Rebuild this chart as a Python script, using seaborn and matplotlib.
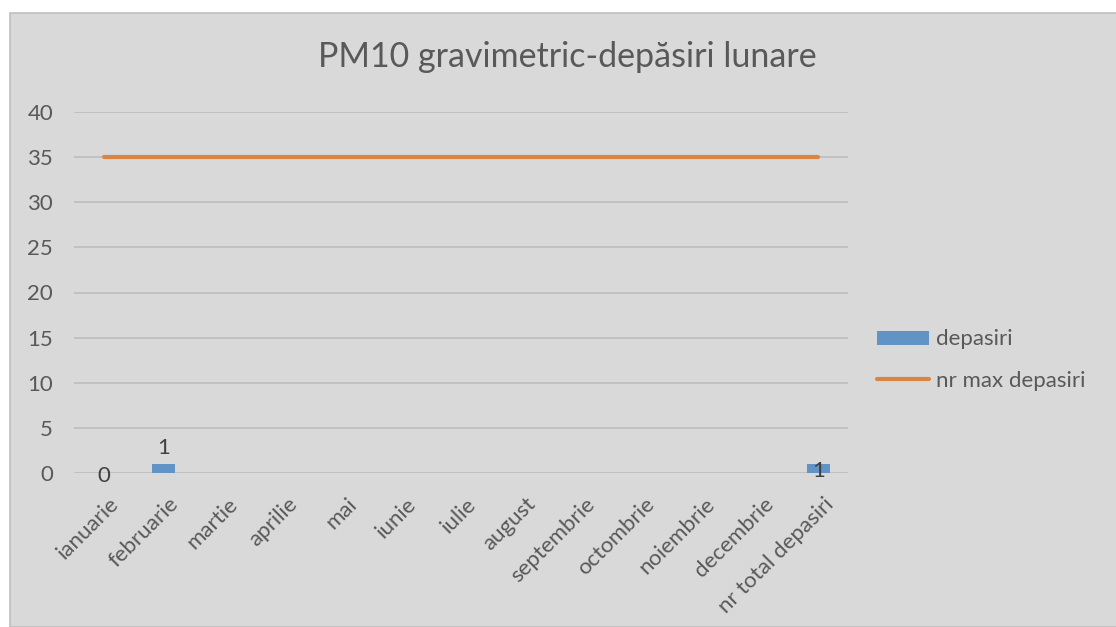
import matplotlib
matplotlib.use("Agg")
import matplotlib.pyplot as plt
import matplotlib.transforms as mtransforms
from matplotlib.patches import Rectangle
from matplotlib.lines import Line2D
import numpy as np
import pandas as pd
import seaborn as sns

# chart data
categories = ['ianuarie', 'februarie', 'martie', 'aprilie', 'mai', 'iunie', 'iulie',
              'august', 'septembrie', 'octombrie', 'noiembrie', 'decembrie',
              'nr total depasiri']
depasiri = [0, 1, np.nan, np.nan, np.nan, np.nan, np.nan, np.nan, np.nan,
            np.nan, np.nan, np.nan, 1]
nr_max = [35] * 13
yticks = [0, 5, 10, 15, 20, 25, 30, 35, 40]

BG = '#d9d9d9'
TXT = '#595959'
BLUE = '#6194c4'
ORANGE = '#d98544'
FS = 16

sns.set_style('white')
plt.rcParams['font.family'] = ['Lato', 'DejaVu Sans']

fig = plt.figure(figsize=(11.16, 6.27), dpi=100)
fig.patch.set_facecolor('white')
# chart area
fig.patches.append(Rectangle((10 / 1116, 0), 1.1, 1 - 13 / 627, transform=fig.transFigure,
                             facecolor=BG, edgecolor='#bfbfbf', linewidth=1.2, zorder=-5))

ax = fig.add_axes([74 / 1116, 154 / 627, 774 / 1116, 361 / 627])
ax.set_facecolor(BG)
ax.patch.set_alpha(0)

df = pd.DataFrame({'cat': categories, 'depasiri': depasiri, 'max': nr_max})
sns.barplot(data=df, x='cat', y='depasiri', color=BLUE, width=0.39, ax=ax,
            saturation=1, linewidth=0, zorder=3)
sns.lineplot(x=np.arange(len(categories)), y=df['max'], color=ORANGE, linewidth=3,
             ax=ax, zorder=4, solid_capstyle='round')

ax.set_xlim(-0.5, len(categories) - 0.5)
ax.set_ylim(0, 40)
ax.set_yticks(yticks)
ax.grid(axis='y', color='#bfbfbf', linewidth=1.3, zorder=0)
ax.set_axisbelow(True)
for s in ax.spines.values():
    s.set_visible(False)
ax.tick_params(length=0, labelcolor=TXT)
ax.tick_params(axis='y', labelsize=FS, pad=15)
ax.set_xticks(range(len(categories)))
ax.set_xticklabels(categories, rotation=45, ha='right', rotation_mode='anchor',
                   fontsize=FS)
ax.tick_params(axis='x', pad=15)
shift = mtransforms.ScaledTranslation(5 / 100, 0, fig.dpi_scale_trans)
for lab in ax.get_xticklabels():
    lab.set_transform(lab.get_transform() + shift)
ax.set_xlabel('')
ax.set_ylabel('')

# data labels as in the reference
ax.annotate('0', (0, 0), xytext=(0, -2.5), textcoords='offset points', ha='center',
            va='center', fontsize=FS, color='#404040')
ax.annotate('1', (1, 1), xytext=(0, 4), textcoords='offset points', ha='center',
            va='bottom', fontsize=FS, color='#404040')
ax.annotate('1', (12, 0.5), xytext=(0, -1.5), textcoords='offset points', ha='center',
            va='center', fontsize=FS, color='#404040', zorder=6)

fig.text(567 / 1116, 1 - 57 / 627, 'PM10 gravimetric-depăsiri lunare', ha='center',
         va='center', fontsize=24.5, color=TXT)

handles = [Rectangle((0, 0), 1, 1, facecolor=BLUE, edgecolor='none'),
           Line2D([0], [0], color=ORANGE, linewidth=3, solid_capstyle='round')]
fig.legend(handles, ['depasiri', 'nr max depasiri'], loc='center left',
           bbox_to_anchor=(877 / 1116, 1 - 360 / 627), frameon=False, borderpad=0,
           borderaxespad=0, fontsize=FS, labelcolor=TXT, handlelength=2.35,
           handleheight=0.6, handletextpad=0.3, labelspacing=0.95)

fig.savefig('out.png', dpi=100, facecolor=fig.get_facecolor())
